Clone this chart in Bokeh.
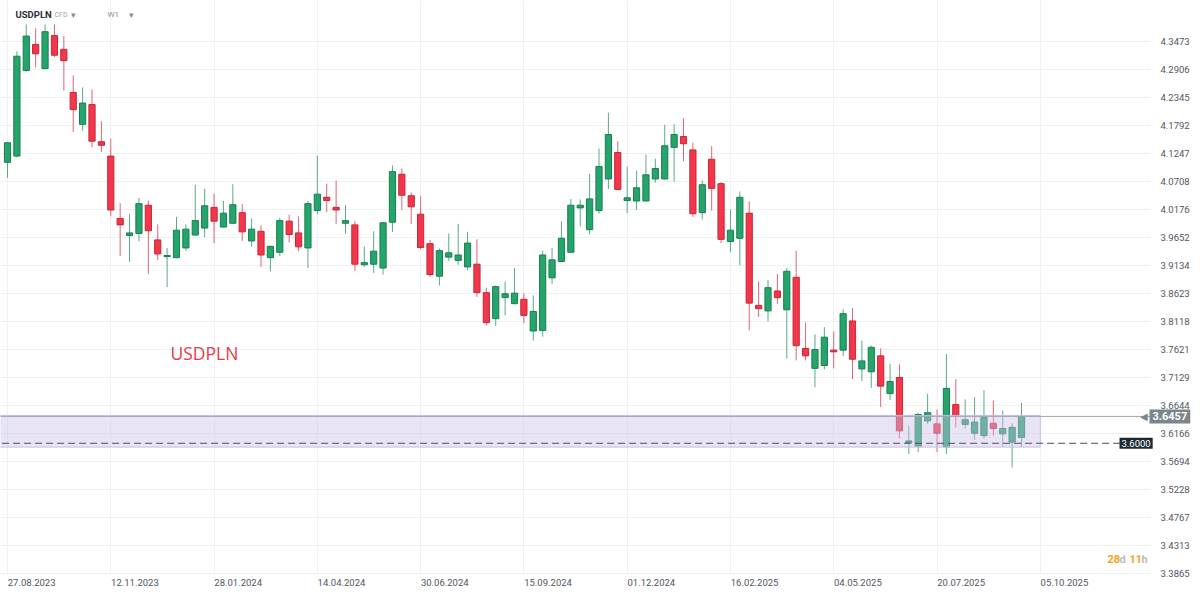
import numpy as np
import pandas as pd
from bokeh.plotting import figure
from bokeh.models import (Range1d, FixedTicker, PrintfTickFormatter, ColumnDataSource,
                          Label)
from bokeh.embed import file_html
from bokeh.resources import INLINE

# ---------------- data (weekly candles, USDPLN) ----------------
symbol = "USDPLN"
first_week = "2023-08-27"

opens = [4.108, 4.120, 4.289, 4.342, 4.293, 4.360, 4.332, 4.245, 4.182, 4.221,
         4.148, 4.120, 4.001, 3.969, 3.973, 4.026, 3.961, 3.930, 3.928, 3.946,
         3.970, 3.983, 4.022, 3.985, 3.992, 4.012, 3.959, 3.977, 3.928, 3.938,
         3.996, 3.974, 3.946, 4.016, 4.041, 4.022, 3.992, 3.989, 3.915, 3.916,
         3.909, 3.994, 4.085, 4.044, 4.009, 3.954, 3.894, 3.929, 3.923, 3.911,
         3.916, 3.864, 3.817, 3.855, 3.844, 3.852, 3.795, 3.796, 3.891, 3.921,
         3.938, 4.021, 3.980, 4.016, 4.076, 4.127, 4.035, 4.034, 4.034, 4.076,
         4.076, 4.137, 4.158, 4.132, 4.012, 4.114, 4.067, 3.958, 3.964, 4.011,
         3.841, 3.831, 3.867, 3.833, 3.892, 3.764, 3.729, 3.734, 3.761, 3.761,
         3.813, 3.728, 3.723, 3.751, 3.685, 3.713, 3.601, 3.595, 3.638, 3.633,
         3.594, 3.666, 3.632, 3.617, 3.613, 3.634, 3.616, 3.602, 3.610]
highs = [4.147, 4.328, 4.383, 4.375, 4.383, 4.383, 4.359, 4.279, 4.255, 4.251,
         4.188, 4.154, 4.030, 4.010, 4.040, 4.035, 3.990, 3.946, 4.004, 3.990,
         4.065, 4.057, 4.048, 4.034, 4.066, 4.028, 4.001, 3.988, 3.950, 4.002,
         4.008, 4.005, 4.034, 4.121, 4.067, 4.073, 4.026, 3.996, 3.949, 3.977,
         3.994, 4.102, 4.096, 4.050, 4.043, 3.961, 3.945, 3.973, 3.991, 3.976,
         3.962, 3.873, 3.877, 3.884, 3.909, 3.863, 3.859, 3.941, 3.946, 3.996,
         4.038, 4.037, 4.086, 4.135, 4.205, 4.149, 4.100, 4.092, 4.123, 4.115,
         4.181, 4.182, 4.194, 4.146, 4.073, 4.139, 4.070, 4.018, 4.052, 4.033,
         3.884, 3.887, 3.898, 3.909, 3.941, 3.810, 3.789, 3.802, 3.794, 3.834,
         3.836, 3.778, 3.769, 3.764, 3.737, 3.736, 3.630, 3.652, 3.685, 3.657,
         3.754, 3.710, 3.675, 3.679, 3.691, 3.673, 3.656, 3.634, 3.669]
lows = [4.078, 4.118, 4.287, 4.295, 4.292, 4.316, 4.249, 4.167, 4.169, 4.137,
        4.128, 4.005, 3.931, 3.920, 3.958, 3.898, 3.924, 3.874, 3.927, 3.941,
        3.969, 3.966, 3.955, 3.984, 3.991, 3.959, 3.948, 3.911, 3.903, 3.931,
        3.956, 3.940, 3.909, 4.009, 4.013, 3.991, 3.972, 3.904, 3.911, 3.900,
        3.897, 3.976, 4.017, 3.991, 3.944, 3.893, 3.877, 3.922, 3.915, 3.905,
        3.856, 3.805, 3.804, 3.823, 3.843, 3.809, 3.778, 3.785, 3.880, 3.920,
        3.937, 3.986, 3.971, 4.010, 4.057, 4.055, 4.011, 4.017, 4.033, 4.069,
        4.075, 4.071, 4.110, 4.004, 3.999, 4.016, 3.955, 3.938, 3.914, 3.796,
        3.820, 3.812, 3.844, 3.746, 3.743, 3.743, 3.696, 3.727, 3.729, 3.751,
        3.710, 3.707, 3.695, 3.662, 3.674, 3.608, 3.582, 3.585, 3.633, 3.585,
        3.582, 3.627, 3.625, 3.606, 3.608, 3.613, 3.594, 3.559, 3.594]
closes = [4.146, 4.318, 4.359, 4.323, 4.368, 4.320, 4.309, 4.211, 4.224, 4.149,
          4.141, 4.017, 3.989, 3.974, 4.029, 3.978, 3.935, 3.932, 3.979, 3.981,
          3.997, 4.025, 3.996, 4.011, 4.027, 3.976, 3.981, 3.933, 3.949, 3.997,
          3.971, 3.948, 4.029, 4.047, 4.035, 4.017, 3.997, 3.916, 3.919, 3.940,
          3.993, 4.090, 4.045, 4.023, 3.947, 3.897, 3.941, 3.937, 3.933, 3.955,
          3.864, 3.810, 3.875, 3.862, 3.863, 3.823, 3.830, 3.933, 3.924, 3.964,
          4.026, 4.026, 4.038, 4.100, 4.162, 4.056, 4.040, 4.059, 4.084, 4.096,
          4.140, 4.162, 4.144, 4.010, 4.065, 4.058, 3.962, 3.979, 4.041, 3.845,
          3.835, 3.873, 3.855, 3.903, 3.769, 3.751, 3.762, 3.784, 3.758, 3.826,
          3.745, 3.742, 3.766, 3.698, 3.706, 3.621, 3.604, 3.649, 3.652, 3.617,
          3.694, 3.646, 3.640, 3.636, 3.644, 3.625, 3.625, 3.627, 3.6457]

tick_dates = ["2023-08-27", "2023-11-12", "2024-01-28", "2024-04-14", "2024-06-30",
              "2024-09-15", "2024-12-01", "2025-02-16", "2025-05-04", "2025-07-20",
              "2025-10-05"]
tick_labels = ["27.08.2023", "12.11.2023", "28.01.2024", "14.04.2024", "30.06.2024",
               "15.09.2024", "01.12.2024", "16.02.2025", "04.05.2025", "20.07.2025",
               "05.10.2025"]
price_ticks = [4.3473, 4.2906, 4.2345, 4.1792, 4.1247, 4.0708, 4.0176, 3.9652, 3.9134,
               3.8623, 3.8118, 3.7621, 3.7129, 3.6644, 3.6166, 3.5694, 3.5228, 3.4767,
               3.4313, 3.3865]
last_price = 3.6457
level_price = 3.6000
zone_low, zone_high = 3.5935, 3.6474
countdown = [("28", "#f5a31a"), ("d", "#b8bcc4"), ("11", "#f5a31a"), ("h", "#b8bcc4")]

# ---------------- layout constants ----------------
W, H = 1200, 592
PLOT_W = 1150            # width of the candle area; the price scale sits to its right
WEEK = 7 * 24 * 3600 * 1000
DAY = 24 * 3600 * 1000
PX_PER_WEEK = 9.389

def ms(d):
    return int(pd.Timestamp(d).value // 10**6)

dates = pd.date_range(first_week, periods=len(opens), freq="7D")
df = pd.DataFrame(dict(date=dates, open=opens, high=highs, low=lows, close=closes))
df["top"] = df[["open", "close"]].max(axis=1)
df["bottom"] = df[["open", "close"]].min(axis=1)
up = ColumnDataSource(df[df.close >= df.open].reset_index(drop=True))
dn = ColumnDataSource(df[df.close < df.open].reset_index(drop=True))

start = ms(first_week)
x0 = start - (7 / PX_PER_WEEK) * WEEK
x1 = x0 + (W / PX_PER_WEEK) * WEEK
x_edge = x0 + (PLOT_W / PX_PER_WEEK) * WEEK
y_lo, y_hi = 3.35624, 4.4325
y_base = price_ticks[-1]          # bottom edge of the candle area

p = figure(width=W, height=H, x_axis_type="datetime", y_axis_type="log",
           y_axis_location="right", output_backend="svg", toolbar_location=None,
           x_range=Range1d(x0, x1), y_range=Range1d(y_lo, y_hi),
           min_border_left=0, min_border_top=0, min_border_right=0,
           min_border_bottom=0)
p.outline_line_color = None
p.background_fill_color = "white"
p.border_fill_color = "white"

GREEN, GREEN_EDGE, GREEN_WICK = "#25a56b", "#177f4f", "#3f9b72"
RED, RED_EDGE, RED_WICK = "#f4364a", "#c2283a", "#d84a5b"
bw = 0.66 * WEEK

p.segment(x0="date", y0="low", x1="date", y1="high", source=up,
          line_color=GREEN_WICK, line_width=1, line_alpha=0.85)
p.segment(x0="date", y0="low", x1="date", y1="high", source=dn,
          line_color=RED_WICK, line_width=1, line_alpha=0.85)
p.vbar(x="date", width=bw, top="top", bottom="bottom", source=up,
       fill_color=GREEN, line_color=GREEN_EDGE, line_width=1)
p.vbar(x="date", width=bw, top="top", bottom="bottom", source=dn,
       fill_color=RED, line_color=RED_EDGE, line_width=1)

# shaded support zone (drawn over the candles)
p.quad(left=x0 - WEEK, right=ms(tick_dates[-1]), bottom=zone_low, top=zone_high,
       fill_color=(203, 194, 232), fill_alpha=0.44,
       line_color="#c6bfe3", line_width=1)

# white strips for the price scale (right) and the time scale (bottom)
p.quad(left=x_edge, right=x1 + WEEK, bottom=y_lo * 0.9, top=y_hi * 1.1,
       fill_color="white", line_color=None)
p.quad(left=x0 - WEEK, right=x1 + WEEK, bottom=y_lo * 0.9, top=y_base * 0.9996,
       fill_color="white", line_color=None)

# last price line and 3.60 level
p.segment(x0=[x0 - WEEK], y0=[last_price], x1=[x_edge], y1=[last_price],
          line_color="#a2a6b2", line_width=1)
p.segment(x0=[x0 - WEEK], y0=[level_price], x1=[x_edge], y1=[level_price],
          line_color="#4a4f57", line_width=1, line_dash="7 4")

# axes / grids
grid_ticks = [ms(d) for d in tick_dates]
label_ticks = [g + 18 * DAY for g in grid_ticks]
p.xaxis.ticker = FixedTicker(ticks=label_ticks)
p.xaxis.major_label_overrides = {t: lab for t, lab in zip(label_ticks, tick_labels)}
p.xaxis.fixed_location = y_base
p.xgrid.ticker = FixedTicker(ticks=grid_ticks)
p.yaxis.ticker = FixedTicker(ticks=price_ticks)
p.yaxis.formatter = PrintfTickFormatter(format="%.4f")
p.yaxis.fixed_location = x_edge

for ax in (p.xaxis, p.yaxis):
    ax.axis_line_color = None
    ax.major_tick_line_color = None
    ax.minor_tick_line_color = None
    ax.major_label_text_font = "Roboto"
    ax.major_label_text_font_size = "9.5px"
    ax.major_label_text_color = "#50555f"
p.xaxis.major_label_standoff = 0
p.yaxis.major_label_standoff = 4

p.xgrid.grid_line_color = "#f0f1f3"
p.ygrid.grid_line_color = "#eef0f2"

# price tags on the right
p.add_layout(Label(x=x_edge, y=last_price, x_offset=-11, text="\u25c0", text_color="#7a868b",
                   text_font_size="10px", text_align="left", text_baseline="middle"))
p.add_layout(Label(x=x_edge, y=last_price, x_offset=-1, text=f"{last_price:.4f}",
                   text_color="white", text_font="Roboto", text_font_size="11px",
                   text_font_style="bold", text_align="left", text_baseline="middle",
                   background_fill_color="#7a868b", padding=3))
p.add_layout(Label(x=x_edge, y=level_price, x_offset=-31, text=f"{level_price:.4f}",
                   text_color="white", text_font="Roboto", text_font_size="9.5px",
                   text_align="left", text_baseline="middle",
                   background_fill_color="#1e2a33", padding=2))

# header
p.add_layout(Label(x=x0, y=y_hi, x_offset=15, y_offset=-14, text=symbol,
                   text_color="#2a2e39", text_font="Roboto", text_font_size="9.5px",
                   text_font_style="bold", text_baseline="middle"))
p.add_layout(Label(x=x0, y=y_hi, x_offset=54, y_offset=-14, text="CFD",
                   text_color="#a0a4ab", text_font="Roboto", text_font_size="7px",
                   text_baseline="middle"))
p.add_layout(Label(x=x0, y=y_hi, x_offset=70, y_offset=-14, text="\u25be",
                   text_color="#888c94", text_font_size="9px", text_baseline="middle"))
p.add_layout(Label(x=x0, y=y_hi, x_offset=107, y_offset=-14, text="W1",
                   text_color="#8a8e96", text_font="Roboto", text_font_size="8px",
                   text_baseline="middle"))
p.add_layout(Label(x=x0, y=y_hi, x_offset=128, y_offset=-14, text="\u25be",
                   text_color="#888c94", text_font_size="9px", text_baseline="middle"))

# big symbol label
p.add_layout(Label(x=x0, y=y_hi, x_offset=170, y_offset=-352, text=symbol,
                   text_color="#e63a47", text_font="Open Sans", text_font_size="17.5px",
                   text_baseline="middle"))

# countdown
offs = [-43, -31, -21, -9]
for (txt, col), off in zip(countdown, offs):
    p.add_layout(Label(x=x_edge, y=y_base, x_offset=off, y_offset=14, text=txt,
                       text_color=col, text_font="Roboto", text_font_size="11px",
                       text_font_style="bold", text_baseline="middle"))

open("out.html", "w").write(file_html(p, INLINE, title="USDPLN W1"))
